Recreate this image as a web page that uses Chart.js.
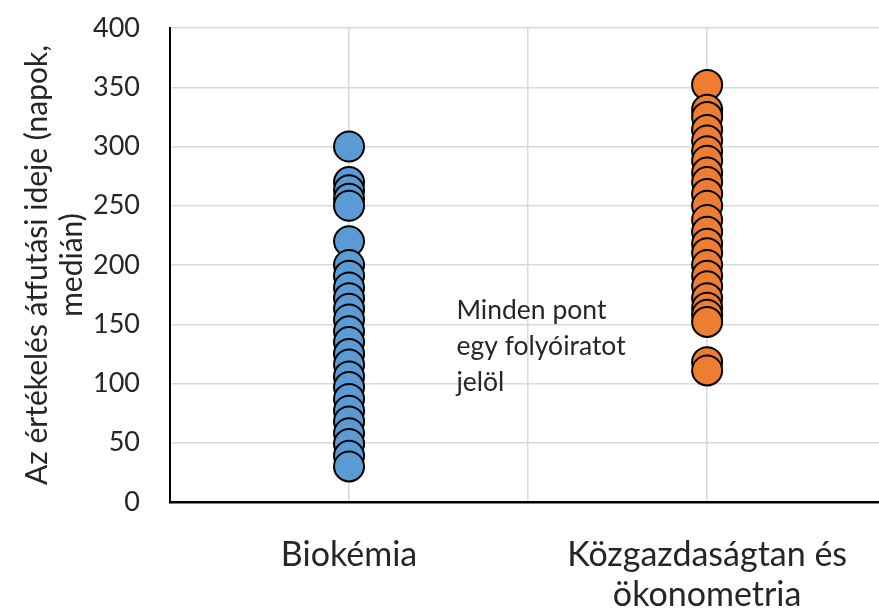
<!DOCTYPE html>
<html>
<head>
<meta charset="utf-8">
<script src="https://cdn.jsdelivr.net/npm/chart.js@4"></script>
<style>
  html, body { margin: 0; padding: 0; background: #fff; overflow: hidden; }
  #wrap { width: 879px; height: 610px; }
  canvas { display: block; }
</style>
</head>
<body>
<div id="wrap"><canvas id="turnaround"></canvas></div>
<script>
// categories and where they sit on the x axis
const categories = ['Biokémia', ['Közgazdaságtan és', 'ökonometria']];
const categoryPositions = [1, 3];

// median review turnaround per journal (days)
const biochemistryDays = [300, 270, 263, 256, 250, 220, 200, 191, 181, 172, 163, 154, 144, 135, 125, 116, 106, 97, 87, 77, 68, 58, 49, 39, 30];
const economicsDays = [352, 331, 325, 314, 305, 296, 288, 278, 270, 260, 250, 238, 228, 218, 210, 200, 191, 182, 172, 164, 158, 152, 118, 111];

const yMin = 0;
const yMax = 400;
const yStep = 50;

const yTitle = ['Az értékelés átfutási ideje (napok,', 'medián)'];
const note = ['Minden pont', 'egy folyóiratot', 'jelöl'];

const FONT = "Lato, 'Open Sans', sans-serif";
const TEXT = '#262626';

const toPoints = (pos, values) => values.map(v => ({ x: pos, y: v }));

const notePlugin = {
  id: 'note',
  afterDraw(chart) {
    const { ctx, scales } = chart;
    const x = scales.x.getPixelForValue(1.6);
    const y = scales.y.getPixelForValue(162);
    ctx.save();
    ctx.fillStyle = TEXT;
    ctx.font = `26.5px ${FONT}`;
    ctx.textBaseline = 'middle';
    note.forEach((line, i) => ctx.fillText(line, x, y + i * 36));
    ctx.restore();
  },
};

new Chart(document.getElementById('turnaround'), {
  type: 'scatter',
  data: {
    datasets: [
      {
        label: 'Biokémia',
        data: toPoints(categoryPositions[0], biochemistryDays),
        backgroundColor: '#5B9BD5',
        borderColor: '#000',
        borderWidth: 2,
        pointRadius: 15,
      },
      {
        label: 'Közgazdaságtan és ökonometria',
        data: toPoints(categoryPositions[1], economicsDays),
        backgroundColor: '#ED7D31',
        borderColor: '#000',
        borderWidth: 2,
        pointRadius: 15,
      },
    ],
  },
  options: {
    responsive: true,
    maintainAspectRatio: false,
    animation: false,
    layout: { autoPadding: false, padding: { top: 28, right: 0, left: 0, bottom: 0 } },
    plugins: {
      legend: { display: false },
      tooltip: { enabled: false },
    },
    scales: {
      x: {
        type: 'linear',
        min: 0,
        max: 3.96,
        afterFit(scale) {
          scale.height = 108;
          scale.paddingLeft = 0;
          scale.paddingRight = 0;
        },
        grid: { color: '#d9d9d9', lineWidth: 1.5, drawTicks: false },
        border: { color: '#000', width: 2.5 },
        ticks: {
          stepSize: 1,
          includeBounds: false,
          autoSkip: false,
          maxRotation: 0,
          padding: 33,
          color: TEXT,
          font: { family: FONT, size: 34, lineHeight: 1.18 },
          callback(value) {
            const i = categoryPositions.indexOf(value);
            return i >= 0 ? categories[i] : '';
          },
        },
      },
      y: {
        min: yMin,
        max: yMax,
        afterFit(scale) {
          scale.width = 170;
          scale.paddingTop = 0;
          scale.paddingBottom = 0;
        },
        grid: { color: '#d9d9d9', lineWidth: 1.5, drawTicks: false },
        border: { color: '#000', width: 2 },
        ticks: {
          stepSize: yStep,
          padding: 30,
          color: TEXT,
          font: { family: FONT, size: 27 },
        },
        title: {
          display: true,
          text: yTitle,
          color: TEXT,
          padding: { top: 19.5, bottom: 0 },
          font: { family: FONT, size: 30, lineHeight: 1.17 },
        },
      },
    },
  },
  plugins: [notePlugin],
});
</script>
</body>
</html>
